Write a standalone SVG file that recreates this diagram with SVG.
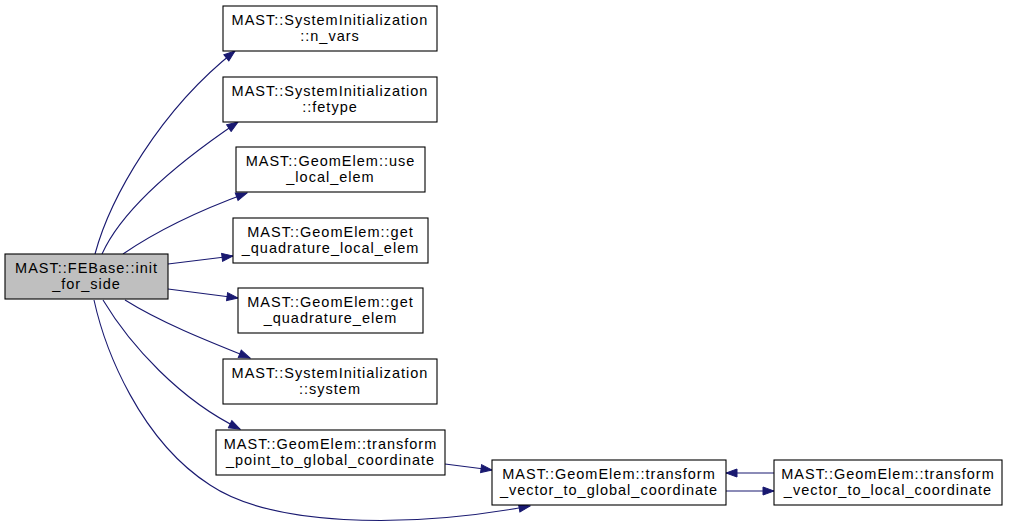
<svg xmlns="http://www.w3.org/2000/svg" width="1009" height="530" viewBox="0 0 1009 530">
<style>
.n rect{fill:#ffffff;stroke:#000000;stroke-width:1.1}
.root rect{fill:#bfbfbf}
.n text{font-family:"Liberation Sans",Arial,sans-serif;font-size:14.5px;letter-spacing:1px;text-anchor:middle;fill:#000000}
.e path{fill:none;stroke:#191970;stroke-width:1.1;marker-end:url(#ah)}
</style>
<defs>
<marker id="ah" markerUnits="userSpaceOnUse" markerWidth="13" markerHeight="10" refX="12" refY="5" orient="auto">
<path d="M1,1 L12,5 L1,9 z" fill="#191970" stroke="#191970" stroke-width="1"/>
</marker>
</defs>
<rect x="0" y="0" width="1009" height="530" fill="#ffffff"/>
<g id="edges" class="e">
<path d="M95,254 C110,198 160,110 235,51"/>
<path d="M102,254 C120,214 170,168 238,122"/>
<path d="M123,254 C155,232 195,212 247,193"/>
<path d="M168,264 L233,256"/>
<path d="M168,289 L238,298"/>
<path d="M125,300 C160,322 205,340 250,358"/>
<path d="M103,300 C130,345 180,400 240,429"/>
<path d="M94,300 C105,350 140,440 210,485 C270,525 400,530 530,506"/>
<path d="M445,464 L492,470"/>
<path d="M774,473 L726,473"/>
<path d="M726,491 L774,491"/>
</g>
<g id="node_febase" class="n root">
<rect x="5" y="254" width="163" height="45"/>
<text x="86.5" y="272.5">MAST::FEBase::init</text>
<text x="86.5" y="288.5">_for_side</text>
</g>
<g id="node_n_vars" class="n">
<rect x="223" y="6" width="214" height="45"/>
<text x="330" y="24.5">MAST::SystemInitialization</text>
<text x="330" y="40.5">::n_vars</text>
</g>
<g id="node_fetype" class="n">
<rect x="223" y="77" width="214" height="45"/>
<text x="330" y="95.5">MAST::SystemInitialization</text>
<text x="330" y="111.5">::fetype</text>
</g>
<g id="node_use_local_elem" class="n">
<rect x="236" y="147" width="189" height="45"/>
<text x="330.5" y="165.5">MAST::GeomElem::use</text>
<text x="330.5" y="181.5">_local_elem</text>
</g>
<g id="node_get_quadrature_local_elem" class="n">
<rect x="233" y="218" width="195" height="45"/>
<text x="330.5" y="236.5">MAST::GeomElem::get</text>
<text x="330.5" y="252.5">_quadrature_local_elem</text>
</g>
<g id="node_get_quadrature_elem" class="n">
<rect x="238" y="288" width="185" height="45"/>
<text x="330.5" y="306.5">MAST::GeomElem::get</text>
<text x="330.5" y="322.5">_quadrature_elem</text>
</g>
<g id="node_system" class="n">
<rect x="223" y="359" width="214" height="45"/>
<text x="330" y="377.5">MAST::SystemInitialization</text>
<text x="330" y="393.5">::system</text>
</g>
<g id="node_transform_point" class="n">
<rect x="216" y="430" width="229" height="45"/>
<text x="330.5" y="448.5">MAST::GeomElem::transform</text>
<text x="330.5" y="464.5">_point_to_global_coordinate</text>
</g>
<g id="node_transform_vector_global" class="n">
<rect x="492" y="460" width="234" height="45"/>
<text x="609" y="478.5">MAST::GeomElem::transform</text>
<text x="609" y="494.5">_vector_to_global_coordinate</text>
</g>
<g id="node_transform_vector_local" class="n">
<rect x="774" y="460" width="228" height="45"/>
<text x="888" y="478.5">MAST::GeomElem::transform</text>
<text x="888" y="494.5">_vector_to_local_coordinate</text>
</g>
</svg>
